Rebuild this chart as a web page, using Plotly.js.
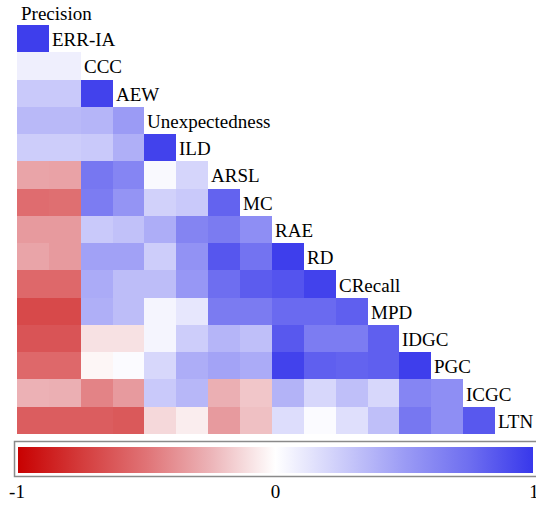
<!DOCTYPE html>
<html>
<head>
<meta charset="utf-8">
<script src="https://cdn.plot.ly/plotly-3.0.1.min.js"></script>
<style>html,body{margin:0;padding:0;background:#fff;}</style>
</head>
<body>
<div id="chart" style="width:536px;height:508px;"></div>
<script>
// Variable names (columns = first 15, rows = last 15)
const varNames = ["Precision","ERR-IA","CCC","AEW","Unexpectedness","ILD","ARSL","MC","RAE","RD","CRecall","MPD","IDGC","PGC","ICGC","LTN"];

// Lower-triangle correlations, one array per row (row variable vs. earlier variables)
const rowERRIA   = [0.97];
const rowCCC     = [0.08, 0.08];
const rowAEW     = [0.27, 0.27, 0.95];
const rowUnexp   = [0.35, 0.35, 0.37, 0.50];
const rowILD     = [0.25, 0.25, 0.27, 0.40, 0.95];
const rowARSL    = [-0.31, -0.32, 0.70, 0.62, 0.03, 0.21];
const rowMC      = [-0.53, -0.52, 0.67, 0.54, 0.23, 0.27, 0.80];
const rowRAE     = [-0.35, -0.35, 0.27, 0.31, 0.41, 0.63, 0.68, 0.57];
const rowRD      = [-0.31, -0.35, 0.47, 0.47, 0.25, 0.55, 0.86, 0.72, 0.97];
const rowCRecall = [-0.55, -0.55, 0.42, 0.33, 0.33, 0.52, 0.75, 0.83, 0.87, 0.95];
const rowMPD     = [-0.69, -0.69, 0.40, 0.33, 0.05, 0.12, 0.68, 0.68, 0.77, 0.77, 0.82];
const rowIDGC    = [-0.64, -0.64, -0.10, -0.10, 0.05, 0.25, 0.37, 0.32, 0.85, 0.67, 0.67, 0.82];
const rowPGC     = [-0.55, -0.55, -0.03, 0.02, 0.20, 0.41, 0.46, 0.42, 0.95, 0.82, 0.80, 0.82, 0.97];
const rowICGC    = [-0.26, -0.27, -0.44, -0.35, 0.27, 0.36, -0.27, -0.19, 0.38, 0.20, 0.32, 0.20, 0.62, 0.57];
const rowLTN     = [-0.60, -0.60, -0.60, -0.62, -0.13, -0.06, -0.35, -0.21, 0.17, 0.02, 0.16, 0.32, 0.70, 0.57, 0.85];

const colorbarTicks = [-1, 0, 1];
const colorbarTickText = ["-1", "0", "1"];

const rows = [rowERRIA, rowCCC, rowAEW, rowUnexp, rowILD, rowARSL, rowMC, rowRAE, rowRD, rowCRecall, rowMPD, rowIDGC, rowPGC, rowICGC, rowLTN];
const n = rows.length;
const colIdx = Array.from({length: n}, (_, i) => i);
const z = rows.map(r => colIdx.map(c => (c < r.length ? r[c] : null)));

const FONT = "Times New Roman";

const colorscale = [
  [0.000, "rgb(200,0,0)"],
  [0.125, "rgb(212,60,60)"],
  [0.250, "rgb(224,115,118)"],
  [0.375, "rgb(236,180,184)"],
  [0.500, "rgb(255,255,255)"],
  [0.625, "rgb(205,205,250)"],
  [0.750, "rgb(155,155,245)"],
  [0.875, "rgb(110,110,240)"],
  [1.000, "rgb(55,55,235)"]
];

const trace = {
  type: "heatmap",
  x: colIdx,
  y: colIdx,
  z: z,
  hoverinfo: "z",
  zmin: -1, zmax: 1,
  colorscale: colorscale,
  xgap: 0, ygap: 0,
  colorbar: {
    orientation: "h",
    x: 0.5408, xanchor: "center",
    y: -0.027, yanchor: "top",
    lenmode: "pixels", len: 517,
    thickness: 28,
    xpad: 0, ypad: 0,
    outlinewidth: 2, outlinecolor: "#ffffff",
    tickvals: colorbarTicks,
    ticktext: colorbarTickText,
    ticks: "", ticklen: 0,
    ticklabeloverflow: "allow",
    tickfont: {family: FONT, size: 19, color: "#000"}
  }
};

const annotations = [];
annotations.push({
  x: -0.5, y: -0.5,
  text: varNames[0], showarrow: false,
  xanchor: "left", yanchor: "bottom", xshift: 2, yshift: -1,
  font: {family: FONT, size: 19, color: "#000"}
});
rows.forEach((r, i) => {
  annotations.push({
    x: r.length - 0.5, y: i,
    text: varNames[i + 1], showarrow: false,
    xanchor: "left", yanchor: "middle", xshift: 1, yshift: -1,
    font: {family: FONT, size: 19, color: "#000"}
  });
});

const layout = {
  width: 536, height: 508,
  margin: {l: 17, r: 41, t: 25, b: 73, pad: 0},
  font: {family: FONT, size: 19, color: "#000"},
  xaxis: {range: [-0.5, n - 0.5], visible: false},
  yaxis: {range: [n - 0.5, -0.5], visible: false},
  annotations: annotations,
  shapes: [{
    type: "rect", xref: "paper", yref: "paper",
    x0: -0.0052, x1: 1.0889, y0: -0.1037, y1: -0.0183,
    line: {color: "#8a8a8a", width: 1.5}, layer: "above"
  }],
  showlegend: false
};

Plotly.newPlot("chart", [trace], layout, {staticPlot: true});
</script>
</body>
</html>
